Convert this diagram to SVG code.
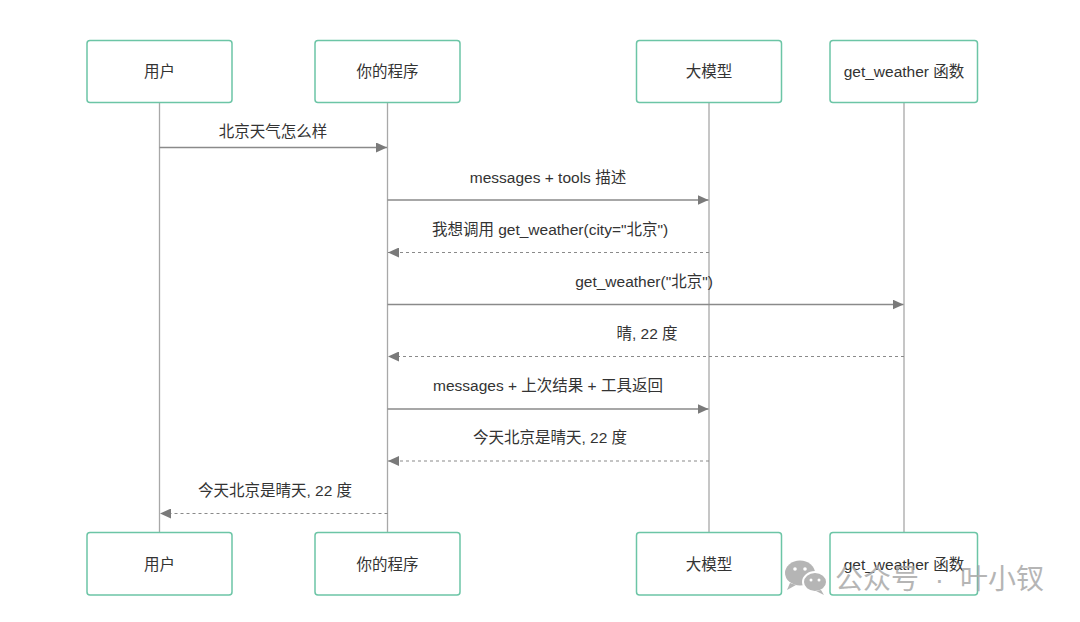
<svg xmlns="http://www.w3.org/2000/svg" width="1080" height="622" viewBox="0 0 1080 622">
<style>
.box{fill:#fff;stroke:#6cc5a6;stroke-width:1.5}
.life{stroke:#a8a8a8;stroke-width:1.3;fill:none}
.lbl{font-family:"Liberation Sans","Noto Sans CJK SC",sans-serif;font-size:15.5px;fill:#333;text-anchor:middle}
.msg{stroke:#8a8a8a;stroke-width:1.3;fill:none}
.ret{stroke:#8a8a8a;stroke-width:1.2;fill:none;stroke-dasharray:3 3}
.wm{font-family:"Noto Sans CJK SC",sans-serif;font-size:28px;fill:#a9a9a9}
</style>
<defs>
<marker id="ah" markerWidth="12" markerHeight="10" refX="11" refY="5" orient="auto" markerUnits="userSpaceOnUse">
<path d="M0,0 L11,5 L0,10 Z" fill="#7a7a7a"/>
</marker>
</defs>
<rect width="1080" height="622" fill="#fff"/>
<g id="lifelines">
<line class="life" x1="159.5" y1="103" x2="159.5" y2="532"/>
<line class="life" x1="387.5" y1="103" x2="387.5" y2="532"/>
<line class="life" x1="709" y1="103" x2="709" y2="532"/>
<line class="life" x1="904" y1="103" x2="904" y2="532"/>
</g>
<g id="connectors">
<line class="msg" x1="159.5" y1="147.5" x2="387" y2="147.5" marker-end="url(#ah)"/>
<text class="lbl" x="273" y="136.5">北京天气怎么样</text>
<line class="msg" x1="387.5" y1="200" x2="708.5" y2="200" marker-end="url(#ah)"/>
<text class="lbl" x="548" y="182.5">messages + tools 描述</text>
<line class="ret" x1="709" y1="252.5" x2="388" y2="252.5" marker-end="url(#ah)"/>
<text class="lbl" x="550" y="234.5">我想调用 get_weather(city="北京")</text>
<line class="msg" x1="387.5" y1="304.5" x2="903.5" y2="304.5" marker-end="url(#ah)"/>
<text class="lbl" x="644" y="286.5">get_weather("北京")</text>
<line class="ret" x1="904" y1="356.5" x2="388" y2="356.5" marker-end="url(#ah)"/>
<text class="lbl" x="647" y="338.5">晴, 22 度</text>
<line class="msg" x1="387.5" y1="409" x2="708.5" y2="409" marker-end="url(#ah)"/>
<text class="lbl" x="548" y="390.5">messages + 上次结果 + 工具返回</text>
<line class="ret" x1="709" y1="461" x2="388" y2="461" marker-end="url(#ah)"/>
<text class="lbl" x="550" y="442.5">今天北京是晴天, 22 度</text>
<line class="ret" x1="387.5" y1="513.5" x2="160" y2="513.5" marker-end="url(#ah)"/>
<text class="lbl" x="275" y="495.5">今天北京是晴天, 22 度</text>
</g>
<g id="user-top"><rect class="box" x="87" y="40.5" width="145" height="62" rx="3"/><text class="lbl" x="159.5" y="77">用户</text></g>
<g id="program-top"><rect class="box" x="315" y="40.5" width="145" height="62" rx="3"/><text class="lbl" x="387.5" y="77">你的程序</text></g>
<g id="llm-top"><rect class="box" x="636.5" y="40.5" width="145" height="62" rx="3"/><text class="lbl" x="709" y="77">大模型</text></g>
<g id="func-top"><rect class="box" x="830" y="40.5" width="147.5" height="62" rx="3"/><text class="lbl" x="904" y="77">get_weather 函数</text></g>
<g id="user-bottom"><rect class="box" x="87" y="532.5" width="145" height="62.5" rx="3"/><text class="lbl" x="159.5" y="569.5">用户</text></g>
<g id="program-bottom"><rect class="box" x="315" y="532.5" width="145" height="62.5" rx="3"/><text class="lbl" x="387.5" y="569.5">你的程序</text></g>
<g id="llm-bottom"><rect class="box" x="636.5" y="532.5" width="145" height="62.5" rx="3"/><text class="lbl" x="709" y="569.5">大模型</text></g>
<g id="func-bottom"><rect class="box" x="830" y="532.5" width="147.5" height="62.5" rx="3"/><text class="lbl" x="904" y="569.5">get_weather 函数</text></g>
<g id="watermark" opacity="0.85">
<ellipse cx="800" cy="573" rx="15" ry="12.5" fill="#a9a9a9"/>
<path d="M790,583 L787,590 L796,585 Z" fill="#a9a9a9"/>
<ellipse cx="815" cy="582" rx="12" ry="10" fill="#a9a9a9" stroke="#fff" stroke-width="2"/>
<path d="M821,590 L824,595 L816,591 Z" fill="#a9a9a9"/>
<circle cx="795" cy="569" r="1.8" fill="#fff"/><circle cx="805" cy="569" r="1.8" fill="#fff"/>
<circle cx="811" cy="580" r="1.5" fill="#fff"/><circle cx="819" cy="580" r="1.5" fill="#fff"/>
<text class="wm" x="835" y="589">公众号<tspan dx="8" font-family="Liberation Sans, sans-serif"> · </tspan><tspan dx="8">叶小钗</tspan></text>
</g>
</svg>
